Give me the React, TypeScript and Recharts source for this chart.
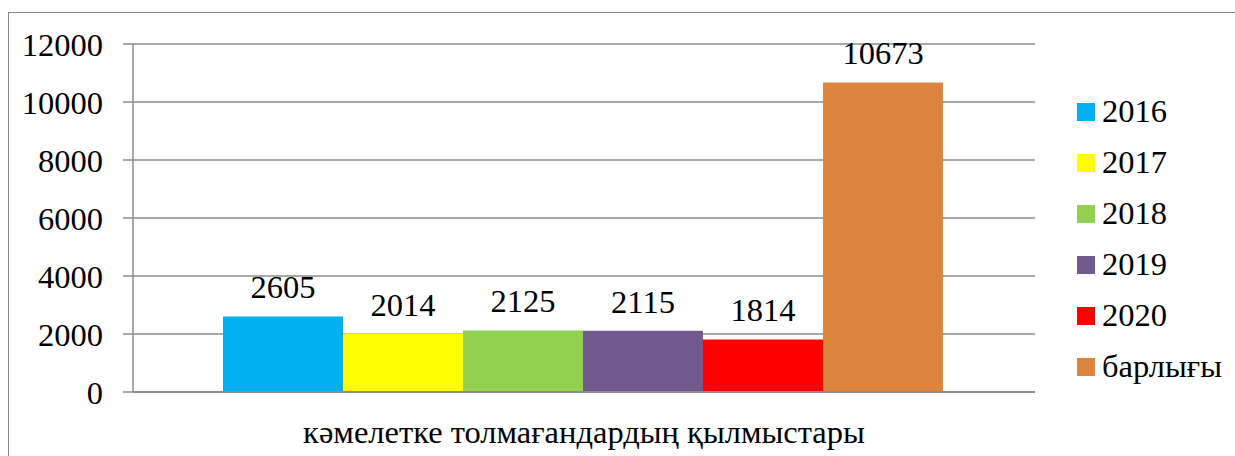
import React from 'react';
import { BarChart, Bar, XAxis, YAxis, CartesianGrid, Legend, LabelList } from 'recharts';

const categories = ['кәмелетке толмағандардың қылмыстары'];
const seriesNames = ['2016', '2017', '2018', '2019', '2020', 'барлығы'];
const seriesValues = [[2605], [2014], [2125], [2115], [1814], [10673]];
const seriesColors = ['#00B0F0', '#FFFF00', '#92D050', '#725A8E', '#FF0000', '#DD843F'];
const yTicks = [0, 2000, 4000, 6000, 8000, 10000, 12000];

const data = categories.map((c, i) => {
  const row: Record<string, string | number> = { name: c };
  seriesNames.forEach((s, j) => {
    row['s' + j] = seriesValues[j][i];
  });
  return row;
});

const FONT = 'Liberation Serif';
const FS = 32.5;
const GRID = '#8c8c8c';
const textStyle = { fontFamily: FONT, fontSize: FS, fill: '#000' };

const renderLegend = () => (
  <ul style={{ listStyle: 'none', margin: 0, padding: 0 }}>
    {seriesNames.map((s, j) => (
      <li key={s} style={{ height: 51, display: 'flex', alignItems: 'center', fontFamily: FONT, fontSize: FS, color: '#000' }}>
        <span style={{ display: 'inline-block', width: 18, height: 18, background: seriesColors[j], marginRight: 7 }} />
        <span style={{ fontFamily: FONT }}>{s}</span>
      </li>
    ))}
  </ul>
);

export default function App() {
  return (
    <div style={{ position: 'absolute', left: 0, top: 0, width: 1235, height: 456, overflow: 'hidden', background: '#fff', fontFamily: FONT }}>
      <div style={{ position: 'absolute', left: 8, top: 12, width: 1240, height: 470, border: '1.5px solid #8c8c8c', boxSizing: 'border-box' }} />
      <BarChart
        width={1235}
        height={456}
        data={data}
        margin={{ top: 44, right: 200, bottom: 0, left: 0 }}
        barCategoryGap={90}
        barGap={0}
        style={{ position: 'absolute', left: 0, top: 0, fontFamily: FONT }}
      >
        <CartesianGrid vertical={false} stroke={GRID} strokeWidth={1.5} />
        <XAxis
          dataKey="name"
          xAxisId="cat"
          height={64}
          tickLine={false}
          axisLine={{ stroke: GRID, strokeWidth: 2 }}
          tickSize={0}
          tickMargin={28}
          tick={textStyle}
        />
        <XAxis
          xAxisId="edge"
          type="number"
          domain={[0, 1]}
          ticks={[0, 1]}
          axisLine={false}
          tickSize={10}
          tickLine={{ stroke: GRID, strokeWidth: 1.5 }}
          tick={false}
          height={0}
        />
        <YAxis
          width={133}
          domain={[0, 12000]}
          ticks={yTicks}
          interval={0}
          tickSize={10}
          tickMargin={20}
          axisLine={{ stroke: GRID, strokeWidth: 1.5 }}
          tickLine={{ stroke: GRID, strokeWidth: 1.5 }}
          tick={textStyle}
        />
        <Legend
          layout="horizontal"
          align="center"
          verticalAlign="middle"
          content={renderLegend}
          wrapperStyle={{ position: 'absolute', left: 1077, top: 86, width: 158 }}
        />
        {seriesNames.map((s, j) => (
          <Bar key={s} xAxisId="cat" dataKey={'s' + j} name={s} fill={seriesColors[j]} isAnimationActive={false}>
            <LabelList dataKey={'s' + j} position="top" offset={18} style={textStyle} fontFamily={FONT} fontSize={FS} fill="#000" />
          </Bar>
        ))}
      </BarChart>
    </div>
  );
}
